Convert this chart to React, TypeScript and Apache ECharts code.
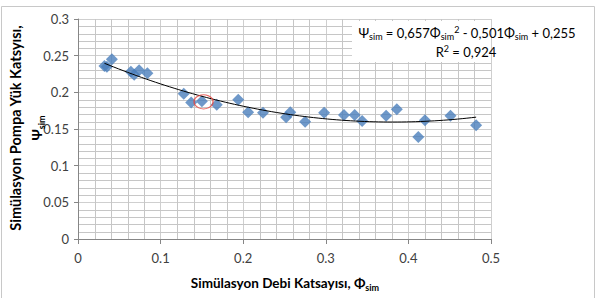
import React, { useEffect, useRef } from "react";
import * as echarts from "echarts";

// Simulation flow coefficient (Φ_sim) and pump head coefficient (Ψ_sim)
const phi = [0.032, 0.035, 0.041, 0.064, 0.068, 0.074, 0.084, 0.128, 0.137, 0.150, 0.168, 0.194, 0.206, 0.224, 0.252, 0.257, 0.275, 0.298, 0.322, 0.335, 0.344, 0.373, 0.386, 0.412, 0.420, 0.451, 0.482];
const psi = [0.236, 0.235, 0.245, 0.228, 0.224, 0.230, 0.226, 0.198, 0.186, 0.188, 0.183, 0.190, 0.173, 0.172, 0.166, 0.173, 0.160, 0.172, 0.169, 0.169, 0.161, 0.168, 0.177, 0.139, 0.162, 0.168, 0.155];

// Quadratic trendline coefficients: Ψ = a·Φ² + b·Φ + c
const trendCoef = [0.657, -0.501, 0.255];
const rSquared = "0,924";

// Point marked with a red ring
const highlight = [0.152, 0.187];

const xTicks = { min: 0, max: 0.5, interval: 0.1 };
const yTicks = { min: 0, max: 0.3, interval: 0.05 };

// Fine gridline positions between the major ticks
const xMinorTicks = [0.02, 0.04, 0.06, 0.08, 0.12, 0.14, 0.16, 0.18, 0.22, 0.24, 0.26, 0.28, 0.32, 0.34, 0.36, 0.38, 0.42, 0.44, 0.46, 0.48];
const yMinorTicks = [0.01, 0.02, 0.03, 0.04, 0.06, 0.07, 0.08, 0.09, 0.11, 0.12, 0.13, 0.14, 0.16, 0.17, 0.18, 0.19, 0.21, 0.22, 0.23, 0.24, 0.26, 0.27, 0.28, 0.29];

const FONT = "Lato, 'Open Sans', 'DejaVu Sans', sans-serif";

function trendPoints(): number[][] {
  const lo = Math.min(...phi);
  const hi = Math.max(...phi);
  const pts: number[][] = [];
  const n = 80;
  for (let i = 0; i <= n; i++) {
    const x = lo + ((hi - lo) * i) / n;
    pts.push([x, trendCoef[0] * x * x + trendCoef[1] * x + trendCoef[2]]);
  }
  return pts;
}

const fmt = (v: number) => v.toFixed(3).replace(".", ",");

const GRID = "#CFCFCF";
const FINE_GRID = "#C6C6C6";
const AXIS = "#868686";

// Fine grid lines, one per tick, placed through the axis scales
function fineGridGraphics(chart: any): any[] {
  const els: any[] = [];
  const crisp = (n: number) => Math.round(n) + 0.5;
  for (const v of xMinorTicks) {
    const a = chart.convertToPixel({ gridIndex: 0 }, [v, yTicks.min]);
    const b = chart.convertToPixel({ gridIndex: 0 }, [v, yTicks.max]);
    const x = crisp(a[0]);
    els.push({
      type: "line",
      silent: true,
      z: 0,
      shape: { x1: x, y1: a[1], x2: x, y2: b[1] },
      style: { stroke: FINE_GRID, lineWidth: 1 },
    });
  }
  for (const v of yMinorTicks) {
    const a = chart.convertToPixel({ gridIndex: 0 }, [xTicks.min, v]);
    const b = chart.convertToPixel({ gridIndex: 0 }, [xTicks.max, v]);
    const y = crisp(a[1]);
    els.push({
      type: "line",
      silent: true,
      z: 0,
      shape: { x1: a[0], y1: y, x2: b[0], y2: y },
      style: { stroke: FINE_GRID, lineWidth: 1 },
    });
  }
  return els;
}

export default function App() {
  const ref = useRef<HTMLDivElement>(null);

  useEffect(() => {
    if (!ref.current) return;
    const chart = echarts.init(ref.current, undefined, { renderer: "svg" });

    const richBase = {
      n: { fontSize: 13, fontFamily: FONT, color: "#000", lineHeight: 16, verticalAlign: "middle" },
      s: { fontSize: 9, fontFamily: FONT, color: "#000", lineHeight: 16, verticalAlign: "bottom" },
      p: { fontSize: 9, fontFamily: FONT, color: "#000", lineHeight: 16, verticalAlign: "top" },
    };

    const boldRich = {
      b: { fontSize: 13.5, fontWeight: "bold", fontFamily: FONT, color: "#000", lineHeight: 18, verticalAlign: "middle" },
      bs: { fontSize: 9, fontWeight: "bold", fontFamily: FONT, color: "#000", lineHeight: 18, verticalAlign: "bottom" },
    };

    const eq =
      `{n|Ψ}{s|sim}{n| = ${fmt(trendCoef[0])}Φ}{s|sim}{p|2}` +
      `{n| - ${fmt(Math.abs(trendCoef[1]))}Φ}{s|sim}{n| + ${fmt(trendCoef[2])}}`;

    const staticGraphics: any[] = [
      {
        type: "rect",
        silent: true,
        z: 0,
        shape: { x: 1.5, y: 6.5, width: 593, height: 300 },
        style: { fill: "rgba(0,0,0,0)", stroke: "#C8C8C8", lineWidth: 1 },
      },
      {
        type: "rect",
        silent: true,
        z: 10,
        shape: { x: 352, y: 21, width: 139, height: 41 },
        style: { fill: "#fff" },
      },
      {
        type: "text",
        x: 467,
        y: 33,
        z: 11,
        style: { text: eq, align: "center", verticalAlign: "middle", rich: richBase },
      },
      {
        type: "text",
        x: 466,
        y: 52,
        z: 11,
        style: {
          text: `{n|R}{p|2}{n| = ${rSquared}}`,
          align: "center",
          verticalAlign: "middle",
          rich: richBase,
        },
      },
      {
        type: "text",
        x: 285,
        y: 283,
        z: 11,
        style: {
          text: "{b|Simülasyon Debi Katsayısı, Φ}{bs|sim}",
          align: "center",
          verticalAlign: "middle",
          rich: boldRich,
        },
      },
      {
        type: "text",
        x: 15,
        y: 128,
        rotation: Math.PI / 2,
        z: 11,
        style: {
          text: "Simülasyon Pompa Yük Katsyısı,",
          align: "center",
          verticalAlign: "middle",
          font: `bold 14.5px ${FONT}`,
          fill: "#000",
        },
      },
      {
        type: "text",
        x: 37,
        y: 128,
        rotation: Math.PI / 2,
        z: 11,
        style: {
          text: "{b|Ψ}{bs|sim}",
          align: "center",
          verticalAlign: "middle",
          rich: boldRich,
        },
      },
    ];

    const option: any = {
      animation: false,
      backgroundColor: "#fff",
      grid: { left: 78, right: 105, top: 19, bottom: 59, containLabel: false },
      xAxis: {
        type: "value",
        ...xTicks,
        axisLine: { show: true, lineStyle: { color: AXIS, width: 1 } },
        axisTick: { show: true, length: 5, lineStyle: { color: AXIS } },
        axisLabel: { color: "#404040", fontSize: 13, fontFamily: FONT, margin: 12 },
        splitLine: { show: true, lineStyle: { color: GRID, width: 1 } },
      },
      yAxis: {
        type: "value",
        ...yTicks,
        axisLine: { show: true, lineStyle: { color: AXIS, width: 1 } },
        axisTick: { show: true, length: 4, lineStyle: { color: AXIS } },
        axisLabel: { color: "#404040", fontSize: 13, fontFamily: FONT, margin: 9 },
        splitLine: { show: true, lineStyle: { color: GRID, width: 1 } },
      },
      series: [
        {
          type: "scatter",
          data: phi.map((x, i) => [x, psi[i]]),
          symbol: "diamond",
          symbolSize: 12,
          itemStyle: { color: "#4A7EBB" },
          z: 3,
        },
        {
          type: "line",
          data: trendPoints(),
          showSymbol: false,
          smooth: false,
          lineStyle: { color: "#000", width: 1 },
          z: 4,
        },
        {
          type: "scatter",
          data: [highlight],
          symbol: "circle",
          symbolSize: [19, 14],
          itemStyle: { color: "transparent", borderColor: "#E8433C", borderWidth: 1.2 },
          z: 5,
        },
      ],
      graphic: { elements: staticGraphics },
    };

    chart.setOption(option);
    // add the fine grid once the axes have their pixel extents
    chart.setOption({ graphic: { elements: [...staticGraphics, ...fineGridGraphics(chart)] } }, { replaceMerge: ["graphic"] });
    return () => chart.dispose();
  }, []);

  return (
    <div
      ref={ref}
      style={{ position: "fixed", left: 0, top: 0, width: 596, height: 298, background: "#fff" }}
    />
  );
}
